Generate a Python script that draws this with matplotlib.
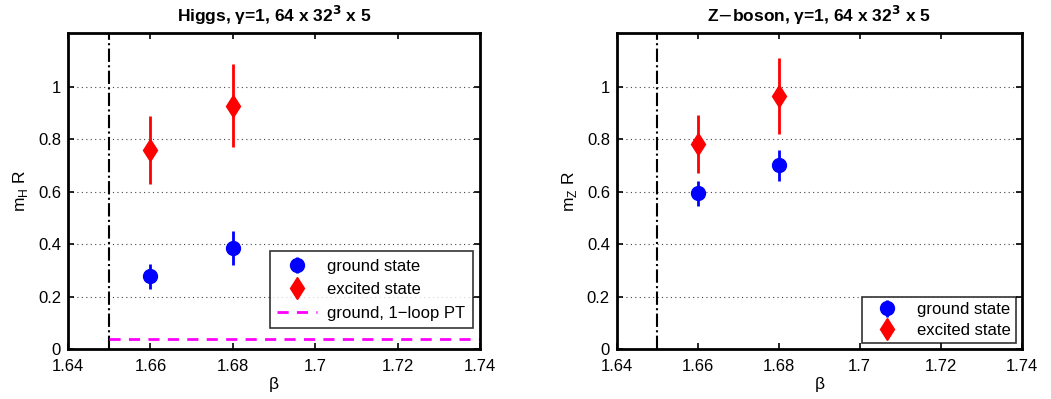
import matplotlib
matplotlib.use("Agg")
import matplotlib.pyplot as plt

plt.rcParams['font.family'] = ['Liberation Sans', 'DejaVu Sans']

beta = [1.66, 1.68]
higgs_ground = [0.277, 0.384]
higgs_ground_err = [0.048, 0.065]
higgs_excited = [0.760, 0.928]
higgs_excited_err = [0.130, 0.157]
higgs_pt_level = 0.038
z_ground = [0.594, 0.700]
z_ground_err = [0.048, 0.060]
z_excited = [0.782, 0.965]
z_excited_err = [0.111, 0.146]
beta_crit = 1.65
xticks = [1.64, 1.66, 1.68, 1.70, 1.72, 1.74]
xticklabels = ['1.64', '1.66', '1.68', '1.7', '1.72', '1.74']
yticks = [0, 0.2, 0.4, 0.6, 0.8, 1.0]
yticklabels = ['0', '0.2', '0.4', '0.6', '0.8', '1']

fig = plt.figure(figsize=(10.51, 3.99), dpi=100)
ax1 = fig.add_axes([0.0647, 0.1253, 0.392, 0.792])
ax2 = fig.add_axes([0.587, 0.1253, 0.385, 0.792])

def style(ax, title, ylabel):
    ax.set_xlim(1.64, 1.74)
    ax.set_ylim(0, 1.205)
    ax.set_xticks(xticks)
    ax.set_xticklabels(xticklabels)
    ax.set_yticks(yticks)
    ax.set_yticklabels(yticklabels)
    ax.tick_params(direction='in', top=True, right=True, labelsize=12, length=4, width=1.2)
    ax.tick_params(axis='x', pad=7)
    ax.tick_params(axis='y', pad=5)
    ax.yaxis.grid(True, linestyle=(0, (1, 3)), color='#444444', linewidth=0.8)
    ax.set_axisbelow(True)
    for s in ax.spines.values():
        s.set_linewidth(2.0)
    ax.set_title(title, fontsize=12.5, fontweight='bold', pad=8)
    ax.set_xlabel(r'$\mathregular{\beta}$', fontsize=12.5, labelpad=1)
    ax.set_ylabel(ylabel, fontsize=12.5, labelpad=6)
    ax.axvline(beta_crit, color='black', linestyle='-.', linewidth=1.5)

def draw(ax, g, ge, e, ee):
    ax.errorbar(beta, g, yerr=ge, fmt='o', color='blue', ms=10,
                elinewidth=2, capsize=0, label='ground state')
    ax.errorbar(beta, e, yerr=ee, fmt='d', color='red', ms=11.5,
                elinewidth=2, capsize=0, label='excited state')

style(ax1, r'Higgs, $\mathregular{\gamma}$=1, 64 x 32$^{\mathbf{3}}$ x 5', r'm$_\mathregular{H}$ R')
draw(ax1, higgs_ground, higgs_ground_err, higgs_excited, higgs_excited_err)
ax1.plot([beta_crit, 1.74], [higgs_pt_level, higgs_pt_level], color='magenta', linestyle='--',
         dashes=(4, 3), linewidth=2, label='ground, 1\u2212loop PT')
h, l = ax1.get_legend_handles_labels()
order = [l.index('ground state'), l.index('excited state'), l.index('ground, 1\u2212loop PT')]
leg1 = ax1.legend([h[i] for i in order], [l[i] for i in order],
                  loc='lower right', bbox_to_anchor=(0.983, 0.066), fontsize=12, frameon=True,
                  fancybox=False, edgecolor='black', borderpad=0.45, labelspacing=0.5,
                  handlelength=2.4, handletextpad=0.6, borderaxespad=0)
leg1.get_frame().set_linewidth(1.2)

style(ax2, r'Z$-$boson, $\mathregular{\gamma}$=1, 64 x 32$^{\mathbf{3}}$ x 5', r'm$_\mathregular{Z}$ R')
draw(ax2, z_ground, z_ground_err, z_excited, z_excited_err)
leg2 = ax2.legend(loc='lower right', bbox_to_anchor=(0.985, 0.019), fontsize=12, frameon=True,
                  fancybox=False, edgecolor='black', borderpad=0.3, labelspacing=0.35,
                  handlelength=2.4, handletextpad=0.6, borderaxespad=0)
leg2.get_frame().set_linewidth(1.2)

fig.savefig('out.png', dpi=100)
